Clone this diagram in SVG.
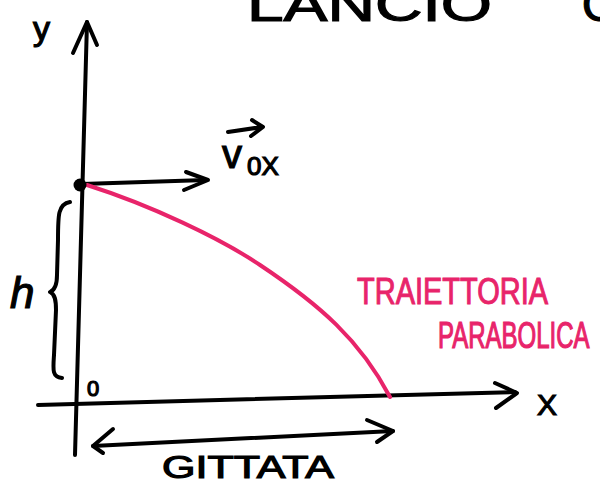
<svg xmlns="http://www.w3.org/2000/svg" width="600" height="490" viewBox="0 0 600 490">
<style>
.ink{fill:none;stroke:#000;stroke-width:4;stroke-linecap:round;stroke-linejoin:round}
.pink{fill:none;stroke:#E8246A;stroke-width:4;stroke-linecap:round;stroke-linejoin:round}
.t{font-family:"Liberation Sans",Arial,sans-serif;fill:#000;stroke:#000;stroke-width:1.2}
.tp{font-family:"Liberation Sans",Arial,sans-serif;fill:#E8246A;stroke:#E8246A;stroke-width:0.8}
</style>
<rect width="600" height="490" fill="#fff"/>
<g id="title">
<text class="t" x="247" y="21" font-size="48" textLength="245" lengthAdjust="spacingAndGlyphs">LANCIO</text>
<text class="t" x="582" y="21" font-size="48">O</text>
</g>
<g id="connectors">
<path class="ink" d="M75,455 L87,22"/>
<path class="ink" d="M73,53 L87,22 L97,45"/>
<path class="ink" d="M38,405 L515,392"/>
<path class="ink" d="M495,383 L517,393 L496,408"/>
<path class="ink" d="M82,184 L206,180"/>
<path class="ink" d="M186,172 L208,180 L184,190"/>
<path class="ink" d="M93,446 L393,431"/>
<path class="ink" d="M113,429 L93,446 L103,453"/>
<path class="ink" d="M367,420 L393,431 L377,442"/>
<path class="ink" stroke-width="3.5" d="M70,202 C58,204 58,215 58,240 L57,275 C57,285 55,290 50,292 C55,294 56,300 56,310 L54,355 C53,370 52,377 62,378"/>
<path class="pink" d="M87,185 C150,205 220,238 260,265 C320,305 360,340 390,397"/>
</g>
<g id="start-point">
<circle cx="80" cy="185" r="6.5" fill="#000"/>
</g>
<g id="labels">
<text class="t" x="33" y="40" font-size="34">y</text>
<text class="t" x="537" y="415" font-size="30">X</text>
<text class="t" x="87" y="396" font-size="22">0</text>
<text class="t" x="10" y="308" font-size="44" font-style="italic" font-family="Liberation Serif">h</text>
<text class="t" x="222" y="168" font-size="40">v</text>
<path class="ink" d="M228,132 L262,127 M252,120 L263,127 L251,136"/>
<text class="t" x="247" y="175" font-size="26">0X</text>
<text class="t" x="162" y="478" font-size="32" textLength="172" lengthAdjust="spacingAndGlyphs">GITTATA</text>
<text class="tp" font-size="29" transform="translate(357,304) scale(1,1.25)">TRAIETTORIA</text>
<text class="tp" font-size="24" transform="translate(438,348) scale(1,1.55)">PARABOLICA</text>
</g>
</svg>
